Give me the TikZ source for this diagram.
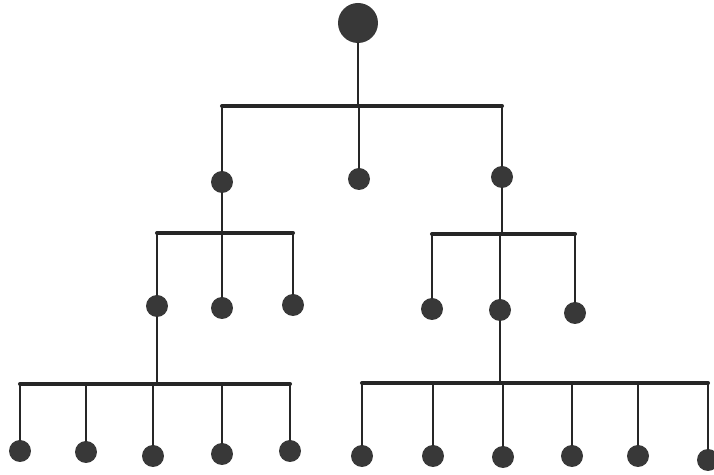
\documentclass[tikz,border=0pt]{standalone}
\usepackage{tikz}
\usetikzlibrary{positioning,calc}
\tikzset{
	pt/.style={circle,fill=black!78,draw=none,inner sep=0pt,minimum size=0.44cm},
	bigpt/.style={pt,minimum size=0.8cm},
	lien/.style={line width=1.7pt,black!85,line cap=round},
	barre/.style={lien,line width=2.3pt}
}
\begin{document}
\begin{tikzpicture}[x=0.02cm,y=-0.02cm]
\useasboundingbox (0,0) rectangle (714,475);

%Racine
\node[bigpt] (r) at (358,23) {};

%Premier niveau
\node[pt] (a1) at (222,182) {};
\node[pt] (a2) at (359,179) {};
\node[pt] (a3) at (502,177) {};

%Deuxieme niveau
\node[pt] (b1) at (157,306) {};
\node[pt] (b2) at (222,308) {};
\node[pt] (b3) at (293,305) {};
\node[pt] (c1) at (432,309) {};
\node[pt] (c2) at (500,310) {};
\node[pt] (c3) at (575,313) {};

%Feuilles
\foreach \i/\x/\y in {1/20/451,2/86/452,3/153/456,4/222/454,5/290/451}
	\node[pt] (d\i) at (\x,\y) {};
\foreach \i/\x/\y in {1/362/456,2/433/456,3/503/457,4/572/456,5/638/456,6/708/460}
	\node[pt] (e\i) at (\x,\y) {};

%Barres
\coordinate (h0) at (0,106);
\coordinate (h1) at (0,233);
\coordinate (h2) at (0,234);
\coordinate (h3) at (0,384);
\coordinate (h4) at (0,383);

%Liens
\draw[lien] (r) -- (r |- h0);
\draw[barre] (a1 |- h0) -- (a3 |- h0);
\foreach \n in {a1,a2,a3}
	\draw[lien] (\n |- h0) -- (\n);

\draw[lien] (a1) -- (a1 |- h1);
\draw[barre] (b1 |- h1) -- (b3 |- h1);
\foreach \n in {b1,b2,b3}
	\draw[lien] (\n |- h1) -- (\n);

\draw[lien] (a3) -- (a3 |- h2);
\draw[barre] (c1 |- h2) -- (c3 |- h2);
\foreach \n in {c1,c2,c3}
	\draw[lien] (\n |- h2) -- (\n);

\draw[lien] (b1) -- (b1 |- h3);
\draw[barre] (d1 |- h3) -- (d5 |- h3);
\foreach \n in {d1,d2,d3,d4,d5}
	\draw[lien] (\n |- h3) -- (\n);

\draw[lien] (c2) -- (c2 |- h4);
\draw[barre] (e1 |- h4) -- (e6 |- h4);
\foreach \n in {e1,e2,e3,e4,e5,e6}
	\draw[lien] (\n |- h4) -- (\n);

\end{tikzpicture}
\end{document}
